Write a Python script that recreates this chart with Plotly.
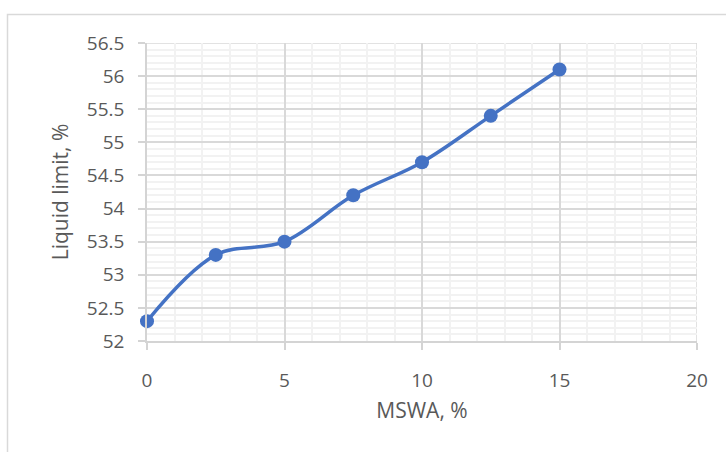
import plotly.graph_objects as go

mswa = [0, 2.5, 5, 7.5, 10, 12.5, 15]
liquid_limit = [52.3, 53.3, 53.5, 54.2, 54.7, 55.4, 56.1]

L, R, T, B = 147, 29, 43, 111
W, H = 726, 452
pw, ph = W - L - R, H - T - B

def px_x(p):
    return (p - L) / pw

def px_y(p):
    return (H - B - p) / ph

fig = go.Figure()
fig.add_trace(go.Scatter(
    x=mswa, y=liquid_limit, mode="lines+markers",
    line=dict(color="#4472C4", width=3.5, shape="spline", smoothing=1),
    marker=dict(color="#4472C4", size=14),
    showlegend=False, cliponaxis=False,
))

font_family = "Open Sans, Liberation Sans, sans-serif"
fig.update_layout(
    width=W, height=H,
    margin=dict(l=L, r=R, t=T, b=B),
    paper_bgcolor="white", plot_bgcolor="white",
    font=dict(family=font_family, color="#595959"),
    shapes=[dict(type="rect", xref="paper", yref="paper",
                 x0=px_x(7.5), x1=px_x(760), y0=px_y(470), y1=px_y(14.5),
                 line=dict(color="#d9d9d9", width=1.5), layer="below")],
)
fig.update_xaxes(
    range=[0, 20], tickvals=[0, 5, 10, 15, 20], showline=True, linecolor="#d4d4d4",
    linewidth=1.5, ticks="outside", ticklen=7, tickcolor="#d4d4d4", tickwidth=1.5,
    showgrid=True, gridcolor="#d9d9d9", gridwidth=1.5, zeroline=False,
    minor=dict(dtick=1, showgrid=True, gridcolor="#f2f2f2", gridwidth=1.5),
    tickfont=dict(size=19, color="#595959"),
    ticklabelstandoff=14,
    title=dict(text="MSWA, %", font=dict(size=21, color="#595959"), standoff=12),
)
fig.update_yaxes(
    range=[52, 56.5], dtick=0.5, showline=True, linecolor="#d4d4d4",
    linewidth=1.5, ticks="outside", ticklen=7, tickcolor="#d4d4d4", tickwidth=1.5,
    showgrid=True, gridcolor="#d9d9d9", gridwidth=1.5, zeroline=False,
    minor=dict(dtick=0.1, showgrid=True, gridcolor="#f2f2f2", gridwidth=1.5),
    tickfont=dict(size=19, color="#595959"),
    ticklabelstandoff=10,
    title=dict(text="Liquid limit, %", font=dict(size=21, color="#595959"), standoff=13),
)
fig.add_shape(type="line", xref="x", yref="paper", x0=20, x1=20, y0=0, y1=1,
              line=dict(color="#d9d9d9", width=1.5), layer="below")
fig.add_shape(type="line", xref="paper", yref="y", x0=0, x1=1, y0=56.5, y1=56.5,
              line=dict(color="#d9d9d9", width=1.5), layer="below")

fig.write_html("out.html", config={"displayModeBar": False},
               post_script="document.body.style.margin='0px';")
